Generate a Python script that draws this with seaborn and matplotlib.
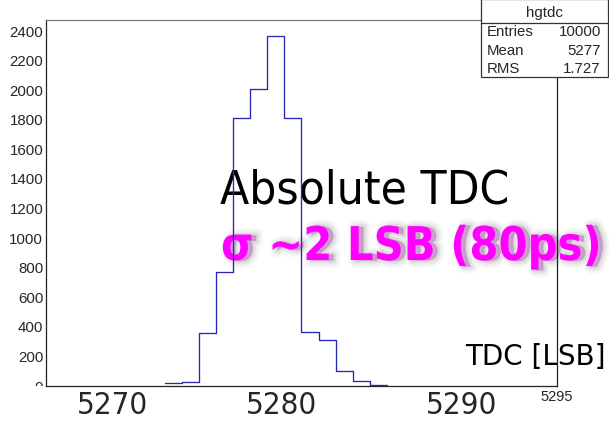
import numpy as np
import pandas as pd
import matplotlib
matplotlib.use("Agg")
import matplotlib.pyplot as plt
import matplotlib.patheffects as pe
from matplotlib.patches import Rectangle
from matplotlib.lines import Line2D
from matplotlib.font_manager import FontProperties
from matplotlib.transforms import ScaledTranslation, Bbox, TransformedBbox
import seaborn as sns

# TDC histogram (1 LSB bins)
bin_low_edges = [5272, 5273, 5274, 5275, 5276, 5277, 5278, 5279, 5280, 5281, 5282, 5283, 5284]
bin_counts = [22, 29, 356, 773, 1813, 2007, 2368, 1813, 363, 311, 101, 36, 5]

# statistics box
hist_name = "hgtdc"
stat_names = ["Entries", "Mean", "RMS"]
stat_values = ["10000", "5277", "1.727"]

# axis labels
y_ticks = list(range(0, 2401, 200))
x_big_labels = ["5270", "5280", "5290"]
x_small_labels = ["5295"]

title_text = "Absolute TDC"
sigma_text = "σ ~2 LSB (80ps)"
xaxis_text = "TDC [LSB]"

sns.set_style("white")
plt.rcParams["font.family"] = ["Liberation Sans", "DejaVu Sans"]

W, H = 609, 423
fig = plt.figure(figsize=(W / 100, H / 100), dpi=100)
fig.patch.set_facecolor("white")

ax_l, ax_r, ax_b, ax_t = 46, 557, 386, 20
ax = fig.add_axes([ax_l / W, (H - ax_b) / H, (ax_r - ax_l) / W, (ax_b - ax_t) / H])

df = pd.DataFrame({"tdc": np.array(bin_low_edges) + 0.5, "count": bin_counts})
edges = bin_low_edges + [bin_low_edges[-1] + 1]
sns.histplot(data=df, x="tdc", weights="count", bins=edges, element="step",
             fill=False, color="#2626b4", linewidth=0.95, ax=ax, zorder=3)

ax.set_xlim(5265, 5295)
ax.set_ylim(0, max(bin_counts) * 1.045)
ax.set_xlabel("")
ax.set_ylabel("")

for side in ["left", "bottom", "top", "right"]:
    ax.spines[side].set_visible(True)
    ax.spines[side].set_color("#222222")
    ax.spines[side].set_linewidth(0.9)
ax.spines["top"].set_color("#777777")

# y axis: ROOT-style inward ticks
ax.set_yticks(y_ticks)
ax.set_yticks(np.arange(0, 2476, 50), minor=True)
ax.tick_params(axis="y", which="major", direction="in", length=11.5, width=0.8,
               labelsize=10.8, pad=2, color="#222222")
ax.tick_params(axis="y", which="minor", direction="in", length=5.8, width=0.8,
               color="#222222")
clip = TransformedBbox(Bbox([[0, (H - ax_b) / H], [1, 1]]), fig.transFigure)
for lbl in ax.get_yticklabels():
    lbl.set_clip_on(True)
    lbl.set_clip_box(clip)

# x axis: major every 5, minor every 1
major_x = np.arange(5265, 5296, 5)
ax.set_xticks(major_x)
ax.set_xticks(np.arange(5265, 5296, 1), minor=True)
labels_map = {float(s): s for s in x_big_labels + x_small_labels}
ax.set_xticklabels([labels_map.get(float(v), "") for v in major_x])
ax.tick_params(axis="x", which="major", direction="in", length=7.2, width=0.8,
               pad=3.5, color="#222222")
ax.tick_params(axis="x", which="minor", direction="in", length=3.6, width=0.8,
               color="#222222")
big_font = FontProperties(family="DejaVu Sans", stretch="condensed", size=22.5)
label_shift = {"5270": -19, "5280": -20, "5290": -10, "5295": 0}
for lbl in ax.get_xticklabels():
    t = lbl.get_text()
    if t in x_big_labels:
        lbl.set_fontproperties(big_font)
        lbl.set_transform(lbl.get_transform() + ScaledTranslation(label_shift[t] / 100, 0, fig.dpi_scale_trans))
    elif t in x_small_labels:
        lbl.set_fontsize(10.5)
        lbl.set_transform(lbl.get_transform() + ScaledTranslation(0, 1 / 100, fig.dpi_scale_trans))

# overlay texts, kept beneath the histogram line and the frame
ax.text(220 / W, (H - 203) / H, title_text, fontsize=34.2, family="DejaVu Sans",
        stretch="condensed", color="black", va="baseline", ha="left",
        transform=fig.transFigure, zorder=1)
shadow = [
    pe.Stroke(offset=(3.5, -0.5), linewidth=10, foreground="#909090", alpha=0.07),
    pe.Stroke(offset=(3.5, -0.5), linewidth=6.5, foreground="#909090", alpha=0.1),
    pe.Stroke(offset=(3.5, -0.5), linewidth=3.5, foreground="#888888", alpha=0.14),
    pe.SimplePatchShadow(offset=(3.5, -0.5), shadow_rgbFace="#808080", alpha=0.25),
    pe.Normal(),
]
ax.text(221 / W, (H - 260) / H, sigma_text, fontsize=33.5, family="DejaVu Sans",
        stretch="condensed", weight="bold", color="#ff00ff", va="baseline",
        ha="left", path_effects=shadow, transform=fig.transFigure, zorder=1)
ax.text(465 / W, (H - 365) / H, xaxis_text, fontsize=20, family="DejaVu Sans",
        color="black", va="baseline", ha="left", transform=fig.transFigure, zorder=1)

# statistics box
bx0, bx1, by0, by1 = 480.7, 608, 77, -1
box = Rectangle((bx0 / W, (H - by0) / H), (bx1 - bx0) / W, (by0 - by1) / H,
                transform=fig.transFigure, facecolor="white", edgecolor="#333333",
                linewidth=0.9, zorder=5)
fig.add_artist(box)
fig.add_artist(Line2D([bx0 / W, bx1 / W], [(H - 22.7) / H] * 2, transform=fig.transFigure,
                      color="#333333", linewidth=0.9, zorder=6))
fig.text((bx0 + bx1) / 2 / W, (H - 17) / H, hist_name, fontsize=10.8, ha="center",
         va="baseline", zorder=7)
for i, (n, v) in enumerate(zip(stat_names, stat_values)):
    yb = (H - (36 + 18.6 * i)) / H
    fig.text(487 / W, yb, n, fontsize=10.8, ha="left", va="baseline", zorder=7)
    fig.text(601 / W, yb, v, fontsize=10.8, ha="right", va="baseline", zorder=7)

fig.savefig("out.png", dpi=100)
